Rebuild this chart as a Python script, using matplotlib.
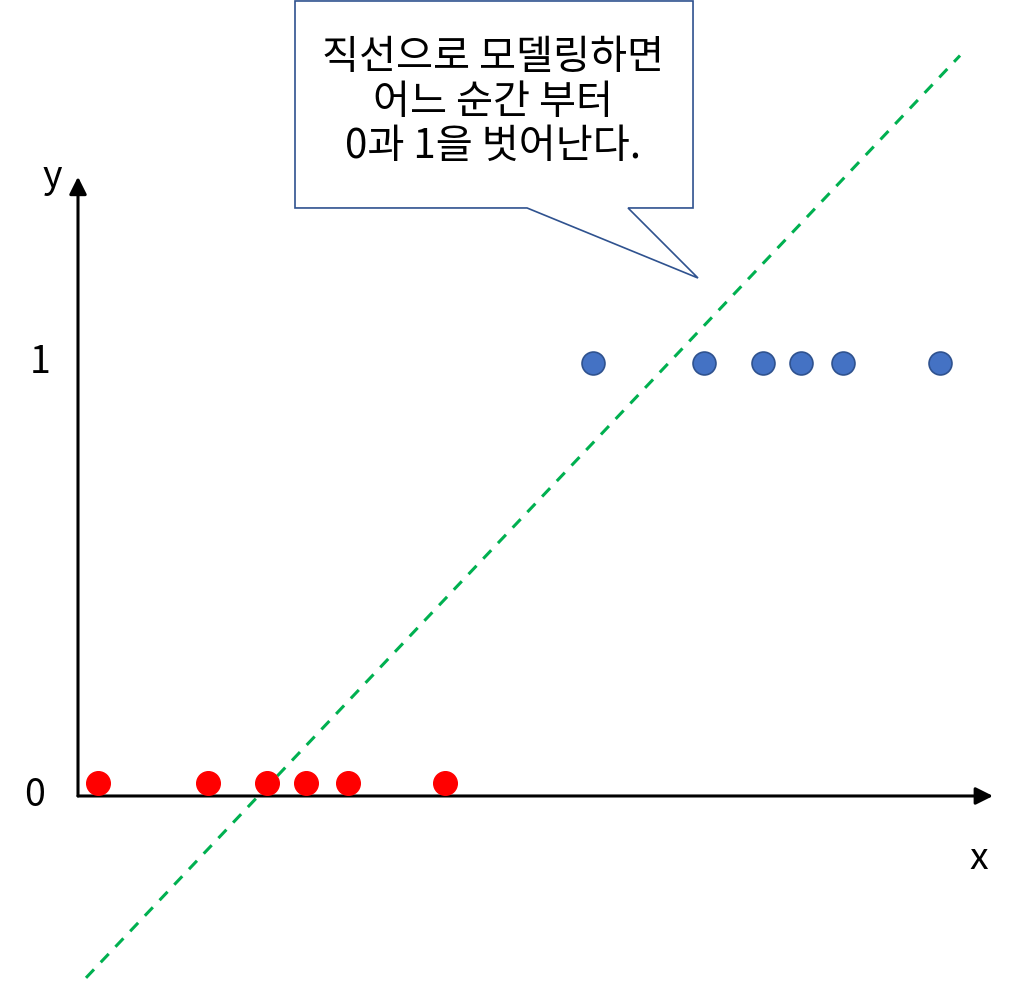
import matplotlib
matplotlib.use("Agg")
import matplotlib.pyplot as plt
from matplotlib.patches import Polygon

plt.rcParams["font.family"] = ["Noto Sans CJK KR", "DejaVu Sans"]

# ── данные ───────────────────────────────────────────────────────────────────
red_x = [0.20, 1.30, 1.89, 2.28, 2.70, 3.67]
red_y = [0.03, 0.03, 0.03, 0.03, 0.03, 0.03]
blue_x = [5.15, 6.26, 6.85, 7.23, 7.65, 8.62]
blue_y = [1.0, 1.0, 1.0, 1.0, 1.0, 1.0]
line_x = [0.08, 8.82]
line_y = [-0.42, 1.71]
y_ticks = [0, 1]
callout = "직선으로 모델링하면\n어느 순간 부터\n0과 1을 벗어난다."

GREEN = "#00B050"
RED = "#FF0000"
BLUE = "#4472C4"
BLUE_EDGE = "#2F528F"

fig = plt.figure(figsize=(10.12, 9.81), dpi=100, facecolor="white")
ax = fig.add_axes([0, 0, 1, 1])
ax.set_xlim(-0.78, 9.34)
ax.set_ylim(-0.4273, 1.8383)
ax.axis("off")

# оси со стрелками
arrow = dict(arrowstyle="-|>", color="black", lw=2.2, mutation_scale=26,
             shrinkA=0, shrinkB=0)
ax.annotate("", xy=(9.15, 0), xytext=(0, 0), arrowprops=arrow)
ax.annotate("", xy=(0, 1.43), xytext=(0, 0), arrowprops=arrow)

# пунктирная прямая
ln, = ax.plot(line_x, line_y, color=GREEN, lw=2.2, zorder=2)
ln.set_dashes([3.8, 3.2])

# точки
ax.plot(red_x, red_y, "o", ms=17, color=RED, mec=RED, zorder=3)
ax.plot(blue_x, blue_y, "o", ms=16.5, color=BLUE, mec=BLUE_EDGE, mew=1.2,
        zorder=3)

# подписи осей
ax.text(-0.43, y_ticks[0], str(y_ticks[0]), ha="center", va="center",
        fontsize=27)
ax.text(-0.38, y_ticks[1], str(y_ticks[1]), ha="center", va="center",
        fontsize=27)
ax.text(-0.26, 1.43, "y", ha="center", va="center", fontsize=27)
ax.text(9.01, -0.145, "x", ha="center", va="center", fontsize=27)

# выноска
box = [(0.2915, 0.999), (0.6848, 0.999), (0.6848, 0.788), (0.6206, 0.788),
       (0.6897, 0.7166), (0.5208, 0.788), (0.2915, 0.788)]
ax.add_patch(Polygon(box, closed=True, transform=ax.transAxes,
                     facecolor="white", edgecolor=BLUE_EDGE, lw=1.2,
                     zorder=4))
ax.text(0.487, 0.896, callout, transform=ax.transAxes, ha="center",
        va="center", fontsize=29, linespacing=1.1, zorder=5)

fig.savefig("out.png", dpi=100, facecolor="white")
